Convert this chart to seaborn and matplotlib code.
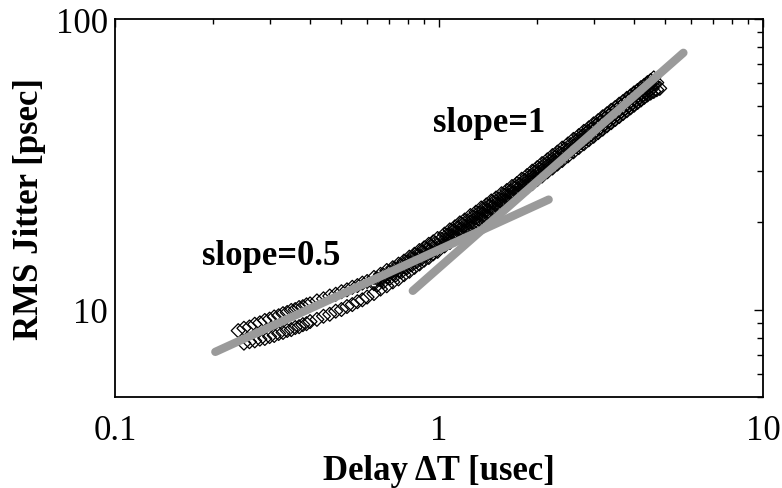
import matplotlib
matplotlib.use("Agg")
import matplotlib.pyplot as plt
import numpy as np
import pandas as pd
import seaborn as sns
from matplotlib.ticker import FixedLocator, FixedFormatter, LogLocator, NullFormatter

# ---- data ----
x_upper = [0.24, 0.25, 0.26, 0.27, 0.28, 0.29, 0.30, 0.31, 0.32, 0.33, 0.34, 0.35, 0.36, 0.37, 0.38, 0.39, 0.40,
           0.42, 0.44, 0.46, 0.48, 0.50, 0.52, 0.54, 0.56, 0.58, 0.60,
           0.63, 0.66, 0.69, 0.72, 0.75, 0.78, 0.81, 0.84, 0.87, 0.90, 0.93, 0.96, 0.99,
           1.04, 1.08, 1.12, 1.16, 1.20, 1.25, 1.30, 1.35, 1.40, 1.45, 1.50, 1.56, 1.62, 1.68, 1.74, 1.80, 1.87, 1.94, 2.01,
           2.08, 2.16, 2.24, 2.32, 2.40, 2.50, 2.60, 2.70, 2.80, 2.90, 3.00, 3.10, 3.20, 3.30, 3.40, 3.50, 3.60, 3.70,
           3.80, 3.90, 4.00, 4.10, 4.20, 4.30, 4.40, 4.50, 4.60]
y_upper = [8.46, 8.62, 8.71, 8.90, 9.00, 9.17, 9.27, 9.43, 9.52, 9.68, 9.77, 9.93, 10.00, 10.16, 10.23, 10.38, 10.46,
           10.71, 10.89, 11.13, 11.29, 11.52, 11.69, 11.93, 12.09, 12.33, 12.49,
           12.90, 13.22, 13.63, 13.93, 14.33, 14.68, 15.15, 15.50, 15.96, 16.31, 16.77, 17.11, 17.56,
           18.18, 18.80, 19.26, 19.87, 20.33, 21.06, 21.63, 22.37, 22.92, 23.65, 24.20, 25.04, 25.69, 26.52, 27.16, 28.09, 28.92, 29.95, 30.79,
           31.80, 32.76, 33.88, 34.82, 35.95, 37.14, 38.52, 39.68, 41.05, 42.20, 43.56, 44.70, 46.07, 47.19, 48.51, 49.60, 50.92, 52.01,
           53.32, 54.39, 55.69, 56.75, 58.04, 59.10, 60.39, 61.43, 62.70]

x_lower = [0.25, 0.26, 0.27, 0.28, 0.29, 0.30, 0.31, 0.32, 0.33, 0.34, 0.35, 0.36, 0.37, 0.38, 0.39, 0.40,
           0.42, 0.44, 0.46, 0.48, 0.50, 0.52, 0.54, 0.56, 0.58, 0.60,
           0.63, 0.66, 0.69, 0.72, 0.75, 0.78, 0.81, 0.84, 0.87, 0.90, 0.93, 0.96, 0.99,
           1.04, 1.08, 1.12, 1.16, 1.20, 1.25, 1.30, 1.35, 1.40, 1.45, 1.50, 1.56, 1.62, 1.68, 1.74, 1.80, 1.87, 1.94, 2.01,
           2.08, 2.16, 2.24, 2.32, 2.40, 2.50, 2.60, 2.70, 2.80, 2.90, 3.00, 3.10, 3.20, 3.30, 3.40, 3.50, 3.60, 3.70,
           3.80, 3.90, 4.00, 4.10, 4.20, 4.30, 4.40, 4.50, 4.60, 4.70, 4.80]
y_lower = [7.66, 7.75, 7.80, 7.91, 7.95, 8.07, 8.14, 8.27, 8.34, 8.47, 8.53, 8.67, 8.73, 8.87, 8.94, 9.09,
           9.25, 9.48, 9.63, 9.87, 10.00, 10.24, 10.40, 10.64, 10.80, 11.04,
           11.35, 11.76, 12.07, 12.45, 12.75, 13.18, 13.54, 13.97, 14.35, 14.79, 15.11, 15.55, 15.86,
           16.55, 17.01, 17.54, 17.99, 18.51, 19.07, 19.70, 20.25, 20.87, 21.41, 22.03, 22.67, 23.38, 24.01, 24.72, 25.44, 26.32, 27.13, 28.01,
           28.81, 29.80, 30.70, 31.68, 32.58, 33.79, 34.91, 36.09, 37.21, 38.38, 39.48, 40.65, 41.76, 42.91, 43.97, 45.11, 46.16, 47.29,
           48.34, 49.46, 50.49, 51.60, 52.63, 53.74, 54.76, 55.59, 56.32, 57.10, 57.70]

x_middle = [0.63, 0.66, 0.69, 0.72, 0.75, 0.78, 0.81, 0.84, 0.87, 0.90, 0.93, 0.96, 0.99,
            1.04, 1.08, 1.12, 1.16, 1.20, 1.25, 1.30, 1.35, 1.40, 1.45, 1.50, 1.56, 1.62, 1.68, 1.74, 1.80, 1.87, 1.94, 2.01,
            2.08, 2.16, 2.24, 2.32, 2.40, 2.50, 2.60, 2.70, 2.80, 2.90, 3.00, 3.10, 3.20, 3.30, 3.40, 3.50, 3.60, 3.70,
            3.80, 3.90, 4.00, 4.10, 4.20, 4.30, 4.40, 4.50, 4.60, 4.70]
y_middle = [12.27, 12.64, 12.94, 13.31, 13.61, 14.03, 14.39, 14.81, 15.16, 15.59, 15.93, 16.35, 16.69,
            17.37, 17.86, 18.40, 18.88, 19.42, 20.01, 20.67, 21.25, 21.90, 22.47, 23.12, 23.80, 24.54, 25.21, 25.94, 26.70, 27.62, 28.47, 29.40,
            30.24, 31.28, 32.22, 33.25, 34.19, 35.46, 36.64, 37.88, 39.05, 40.28, 41.44, 42.67, 43.83, 45.04, 46.15, 47.35, 48.45, 49.63,
            50.74, 51.91, 52.99, 54.16, 55.23, 56.40, 57.47, 58.62, 59.68, 60.40]

x_half = [0.645, 0.675, 0.705, 0.735, 0.765, 0.795, 0.825, 0.855, 0.885, 0.915, 0.945, 0.975,
          1.015, 1.06, 1.10, 1.14, 1.18, 1.225, 1.275, 1.325, 1.375, 1.425, 1.475, 1.53, 1.59, 1.65, 1.71, 1.77,
          1.835, 1.905, 1.975, 2.045, 2.12, 2.20, 2.28, 2.36, 2.45, 2.55, 2.65, 2.75, 2.85, 2.95, 3.05, 3.15,
          3.25, 3.35, 3.45, 3.55, 3.65, 3.75, 3.85, 3.95, 4.05, 4.15, 4.25, 4.35, 4.45, 4.55]
y_upper_mid = [12.76, 13.12, 13.46, 13.80, 14.18, 14.58, 14.98, 15.37, 15.77, 16.16, 16.55, 16.94,
               17.46, 18.06, 18.59, 19.12, 19.64, 20.22, 20.86, 21.49, 22.12, 22.74, 23.37, 24.05, 24.78, 25.50, 26.22, 26.98,
               27.84, 28.75, 29.67, 30.57, 31.54, 32.55, 33.56, 34.58, 35.71, 36.96, 38.20, 39.44, 40.67, 41.89, 43.12, 44.34,
               45.56, 46.75, 47.93, 49.10, 50.28, 51.45, 52.62, 53.77, 54.93, 56.08, 57.22, 58.38, 59.51, 60.64]
y_lower_mid = [12.15, 12.49, 12.82, 13.14, 13.49, 13.88, 14.26, 14.63, 15.01, 15.38, 15.75, 16.13,
               16.62, 17.20, 17.70, 18.20, 18.69, 19.25, 19.86, 20.46, 21.06, 21.65, 22.25, 22.90, 23.58, 24.27, 24.96, 25.69,
               26.51, 27.37, 28.24, 29.10, 30.02, 30.99, 31.95, 32.91, 33.99, 35.18, 36.36, 37.54, 38.72, 39.88, 41.04, 42.20,
               43.37, 44.50, 45.63, 46.74, 47.86, 48.97, 50.09, 51.19, 52.28, 53.38, 54.47, 55.57, 56.65, 57.73]

slope_half_x = [0.204, 2.18]
slope_half_y = [7.15, 23.9]
slope_one_x = [0.83, 5.68]
slope_one_y = [11.6, 76.5]

x_ticks = [0.1, 1, 10]
x_tick_labels = ["0.1", "1", "10"]
y_ticks = [10, 100]
y_tick_labels = ["10", "100"]

# ---- build tables ----
df = pd.DataFrame({
    "delay": x_upper + x_lower + x_middle + x_half + x_half,
    "jitter": y_upper + y_lower + y_middle + y_upper_mid + y_lower_mid,
})
fit_half = pd.DataFrame({"delay": slope_half_x, "jitter": slope_half_y})
fit_one = pd.DataFrame({"delay": slope_one_x, "jitter": slope_one_y})

sns.set_theme(style="white")
plt.rcParams["font.family"] = ["Liberation Serif", "DejaVu Serif"]
plt.rcParams["text.color"] = "black"
plt.rcParams["axes.labelcolor"] = "black"
plt.rcParams["xtick.color"] = "black"
plt.rcParams["ytick.color"] = "black"

fig = plt.figure(figsize=(7.82, 4.89), dpi=100)
ax = fig.add_axes([115 / 782, 1 - 398 / 489, (763 - 115) / 782, (398 - 20) / 489])
ax.set_xscale("log")
ax.set_yscale("log")

ax.scatter(df["delay"], df["jitter"], marker="D", s=50, facecolors="none",
           edgecolors="black", linewidths=0.9, zorder=2)

sns.lineplot(data=fit_one, x="delay", y="jitter", ax=ax, color="#9a9a9a", linewidth=6,
             estimator=None, sort=False, zorder=3, solid_capstyle="round")
sns.lineplot(data=fit_half, x="delay", y="jitter", ax=ax, color="#9a9a9a", linewidth=6,
             estimator=None, sort=False, zorder=3, solid_capstyle="round")

ax.set_xlim(0.1, 10)
ax.set_ylim(5, 100)

ax.xaxis.set_major_locator(FixedLocator(x_ticks))
ax.xaxis.set_major_formatter(FixedFormatter(x_tick_labels))
ax.yaxis.set_major_locator(FixedLocator(y_ticks))
ax.yaxis.set_major_formatter(FixedFormatter(y_tick_labels))
ax.xaxis.set_minor_locator(LogLocator(base=10, subs=range(2, 10)))
ax.yaxis.set_minor_locator(LogLocator(base=10, subs=range(2, 10)))
ax.xaxis.set_minor_formatter(NullFormatter())
ax.yaxis.set_minor_formatter(NullFormatter())

ax.tick_params(axis="both", which="both", direction="in", top=True, right=True,
               colors="black", labelcolor="black", labelsize=25, width=1.0)
ax.tick_params(axis="x", which="major", length=6, pad=12)
ax.tick_params(axis="x", which="minor", length=3.5)
ax.tick_params(axis="y", which="major", length=6.5, pad=5)
ax.tick_params(axis="y", which="minor", length=4)

for sp in ax.spines.values():
    sp.set_visible(True)
    sp.set_color("black")
    sp.set_linewidth(1.3)

ax.set_xlabel("Delay ΔT [usec]", fontsize=25, fontweight="bold", labelpad=5, color="black")
ax.set_ylabel("RMS Jitter [psec]", fontsize=25, fontweight="bold", labelpad=7, color="black")

ax.text(0.185, 14.3, "slope=0.5", fontsize=25, fontweight="bold", va="baseline", ha="left", color="black")
ax.text(0.955, 41.1, "slope=1", fontsize=25, fontweight="bold", va="baseline", ha="left", color="black")

fig.savefig("out.png", dpi=100, facecolor="white")
